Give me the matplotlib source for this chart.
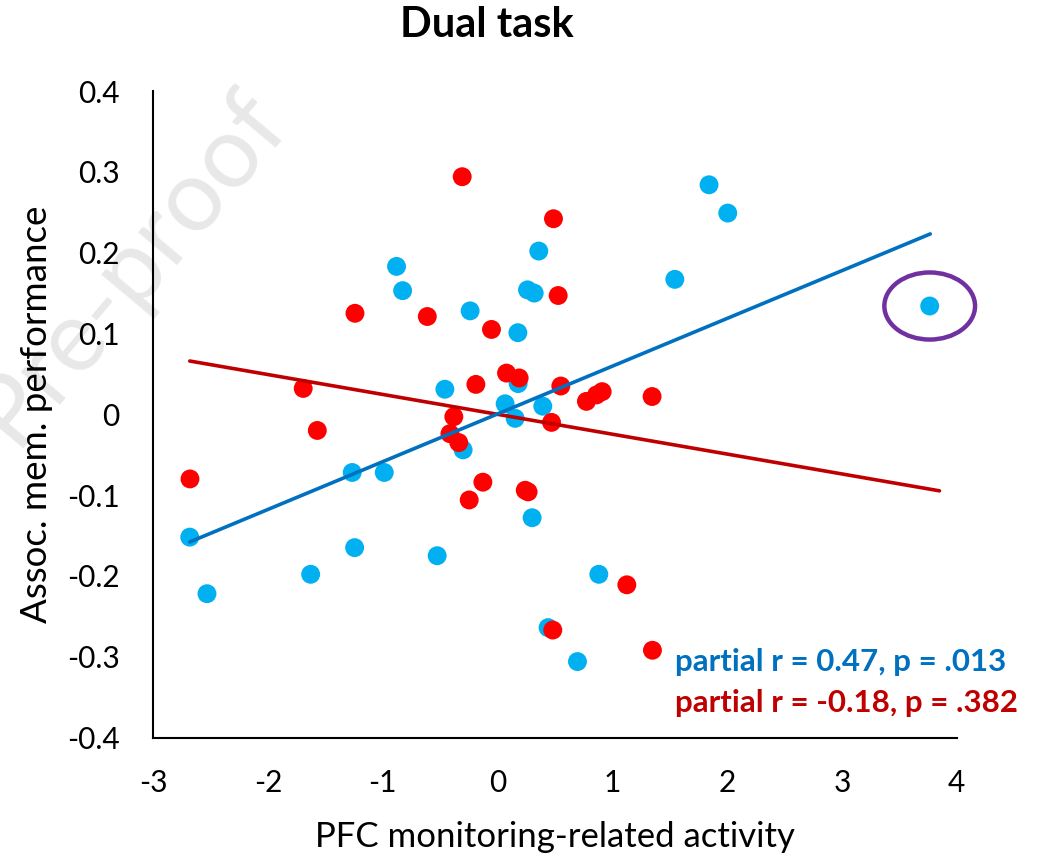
import numpy as np
import matplotlib.pyplot as plt
from matplotlib.patches import Ellipse

plt.rcParams['font.family'] = ['Lato', 'DejaVu Sans']

# -------- DATA --------
# single-task group (blue)
blue_x = [-2.68, -2.53, -1.265, -0.986, -1.244, -1.627, -0.525, -0.879, -0.826, -0.458,
          -0.238, 0.178, 0.36, 0.262, 0.32, 0.067, 0.154, 0.395, 0.18, -0.299,
          0.302, 0.883, 0.441, 0.697, 1.545, 1.843, 2.006, 3.765]
blue_y = [-0.152, -0.222, -0.072, -0.072, -0.165, -0.198, -0.175, 0.183, 0.153, 0.031,
          0.128, 0.101, 0.202, 0.154, 0.150, 0.013, -0.005, 0.010, 0.038, -0.044,
          -0.128, -0.198, -0.264, -0.306, 0.167, 0.284, 0.249, 0.134]

# dual-task group (red)
red_x = [-2.678, -1.692, -1.569, -1.241, -0.611, -0.307, 0.488, 0.529, -0.052, -0.188,
         0.079, 0.189, 0.552, 0.775, 0.863, 0.912, 1.347, 0.471, -0.38, -0.414,
         -0.337, -0.127, -0.246, 0.242, 0.267, 1.127, 0.482, 1.35]
red_y = [-0.080, 0.032, -0.020, 0.125, 0.121, 0.294, 0.242, 0.147, 0.105, 0.037,
         0.051, 0.045, 0.035, 0.016, 0.024, 0.028, 0.022, -0.010, -0.003, -0.024,
         -0.035, -0.084, -0.106, -0.094, -0.096, -0.211, -0.267, -0.292]

# linear trendlines: slope, intercept, x range
blue_fit = (0.0591, 0.0004)
blue_fit_range = [-2.68, 3.77]
red_fit = (-0.0246, 0.0)
red_fit_range = [-2.68, 3.85]

# outlier marked with an ellipse
outlier = (3.765, 0.134)

blue_label = "partial r = 0.47, p = .013"
red_label = "partial r = -0.18, p = .382"

x_ticks = [-3, -2, -1, 0, 1, 2, 3, 4]
y_ticks = [-0.4, -0.3, -0.2, -0.1, 0, 0.1, 0.2, 0.3, 0.4]

# -------- PLOT --------
fig = plt.figure(figsize=(10.41, 8.59), dpi=100)
ax = fig.add_axes([0.147, 0.1414, 0.772, 0.7526])

# watermark behind everything
fig.text(0.125, 0.69, "Pre-proof", fontsize=72, color='#E8E8E8',
         rotation=50, ha='center', va='center', zorder=-1)

ax.scatter(blue_x, blue_y, s=185, color='#00B0F0', edgecolors='none', zorder=3)
ax.scatter(red_x, red_y, s=185, color='#FF0000', edgecolors='none', zorder=4)

xr = np.array(red_fit_range)
ax.plot(xr, red_fit[0] * xr + red_fit[1], color='#C00000', lw=2.6,
        solid_capstyle='round', zorder=5)
xb = np.array(blue_fit_range)
ax.plot(xb, blue_fit[0] * xb + blue_fit[1], color='#0070C0', lw=2.6,
        solid_capstyle='round', zorder=6)

ax.add_patch(Ellipse(outlier, width=0.79, height=0.083, fill=False,
                     edgecolor='#7030A0', lw=3.2, zorder=7, clip_on=False))

ax.text(1.55, -0.307, blue_label, color='#0070C0', fontsize=22.5,
        fontweight='bold', ha='left', va='center')
ax.text(1.55, -0.357, red_label, color='#C00000', fontsize=22.5,
        fontweight='bold', ha='left', va='center')

ax.set_xlim(-3, 4)
ax.set_ylim(-0.4, 0.4)
ax.set_xticks(x_ticks)
ax.set_yticks(y_ticks)
ax.set_xticklabels([str(t) for t in x_ticks])
ax.set_yticklabels(['0' if t == 0 else f"{t:g}" for t in y_ticks])
ax.tick_params(length=0, labelsize=21.5, pad=24)
ax.tick_params(axis='x', pad=23)

for side in ['top', 'right']:
    ax.spines[side].set_visible(False)
for side in ['left', 'bottom']:
    ax.spines[side].set_linewidth(1.5)
ax.patch.set_alpha(0)

ax.set_xlabel("PFC monitoring-related activity", fontsize=25, labelpad=17)
ax.set_ylabel("Assoc. mem. performance", fontsize=26.5, labelpad=10)
fig.text(0.468, 0.971, "Dual task", fontsize=30, fontweight='bold',
         ha='center', va='center')

fig.savefig("out.png", dpi=100)
